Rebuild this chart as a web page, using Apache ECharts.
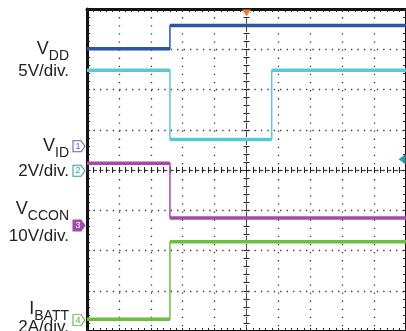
<!DOCTYPE html>
<html>
<head>
<meta charset="utf-8">
<script src="https://cdn.jsdelivr.net/npm/echarts@6/dist/echarts.min.js"></script>
<style>
  html, body { margin: 0; padding: 0; background: #fff; }
  #main { width: 406px; height: 331px; }
</style>
</head>
<body>
<div id="main"></div>
<script>
// time in divisions (10 div across), values in channel units
var vddTime = [-5, -2.4, -2.4, 5];
var vddVolts = [12.1, 12.1, 15.0, 15.0];
var vidTime = [-5, -2.4, -2.4, 0.79, 0.79, 5];
var vidVolts = [5.0, 5.0, 1.55, 1.55, 5.0, 5.0];
var vcconTime = [-5, -2.4, -2.4, 5];
var vcconVolts = [15.5, 15.5, 1.9, 1.9];
var ibattTime = [-5, -2.4, -2.4, 5];
var ibattAmps = [0.05, 0.05, 3.9, 3.9];

// per-channel scale (units/div) and ground offset (div)
var chScale = [5, 2, 10, 2];
var chOffset = [0.59, -0.02, -1.38, -3.73];
var chColor = ["#2b56a6", "#5cc7d4", "#a34ba9", "#6abf3f"];
var markColor = ["#5a5fb0", "#2a9f9c", "#a34ba9", "#5bb03a"];
var chName = ["1", "2", "3", "4"];

var labelMain = ["V", "V", "V", "I"];
var labelSub = ["DD", "ID", "CCON", "BATT"];
var labelDiv = ["5V/div.", "2V/div.", "10V/div.", "2A/div."];

function toDiv(ch, t, v) {
  return t.map(function(x, i) {
    return [x, chOffset[ch] + v[i] / chScale[ch]];
  });
}
// same points, but broken at the vertical edges (those stay thin)
function flatParts(ch, t, v) {
  var out = [];
  t.forEach(function(x, i) {
    out.push([x, chOffset[ch] + v[i] / chScale[ch]]);
    if (i < t.length - 1 && t[i + 1] === x) out.push([x, "-"]);
  });
  return out;
}

var markerPath = "path://M0,0 L8,0 L12,5.5 L8,11 L0,11 Z";

function chMarker(ch, filled, extra) {
  return {
    silent: true,
    animation: false,
    data: [
      {
        coord: [-5, chOffset[ch]],
        symbol: markerPath,
        symbolSize: [12, 11],
        symbolOffset: [-8, 0],
        itemStyle: {
          color: filled ? markColor[ch] : "#fff",
          borderColor: markColor[ch],
          borderWidth: 1
        },
        label: {
          show: true,
          position: "inside",
          formatter: chName[ch],
          color: filled ? "#fff" : markColor[ch],
          fontSize: 9,
          fontFamily: "Liberation Sans",
          offset: [-1, 0]
        }
      }
    ].concat(extra || [])
  };
}

var baseX = {
  type: "value",
  min: -5,
  max: 5,
  interval: 1,
  axisLabel: { show: false },
  splitLine: { show: false },
  axisTick: { show: true, inside: true, length: 3, lineStyle: { color: "#222" } },
  minorTick: { show: true, splitNumber: 5, length: 3, lineStyle: { color: "#222" } }
};
var baseY = {
  type: "value",
  min: -4,
  max: 4,
  interval: 1,
  axisLabel: { show: false },
  splitLine: { show: false },
  axisTick: { show: true, inside: true, length: 3, lineStyle: { color: "#222" } },
  minorTick: { show: true, splitNumber: 5, length: 3, lineStyle: { color: "#222" } }
};
function ax(base, extra) {
  return Object.assign({}, base, extra);
}

var chart = echarts.init(document.getElementById("main"));

var graphics = [];
var labelY = [52, 149, 212, 312];
var divY = [71, 171, 236, 327];
for (var i = 0; i < 4; i++) {
  graphics.push({
    type: "text",
    x: 69,
    y: labelY[i],
    style: {
      text: "{v|" + labelMain[i] + "}{s|" + labelSub[i] + "}",
      align: "right",
      verticalAlign: "middle",
      rich: {
        v: { fontSize: 18, fontFamily: "Liberation Sans", fill: "#222", padding: [0, 0, 5, 0], verticalAlign: "bottom" },
        s: { fontSize: 14, fontFamily: "Liberation Sans", fill: "#222", verticalAlign: "bottom" }
      }
    }
  });
  graphics.push({
    type: "text",
    x: 69,
    y: divY[i],
    style: {
      text: labelDiv[i],
      align: "right",
      verticalAlign: "middle",
      fontSize: 17,
      fontFamily: "Liberation Sans",
      fill: "#222"
    }
  });
}

function traceSeries(ch, t, v, markPoint) {
  return [
    {
      type: "line",
      showSymbol: false,
      data: toDiv(ch, t, v),
      lineStyle: { color: chColor[ch], width: 1.5 },
      markPoint: markPoint
    },
    {
      type: "line",
      showSymbol: false,
      connectNulls: false,
      data: flatParts(ch, t, v),
      lineStyle: { color: chColor[ch], width: 3.5 }
    }
  ];
}

chart.setOption({
  animation: false,
  grid: { left: 87, top: 9, width: 322, height: 324, containLabel: false },
  graphic: graphics,
  xAxis: [
    ax(baseX, {
      position: "bottom",
      axisLine: { onZero: false, lineStyle: { color: "#111", width: 2 } },
      splitLine: { show: true, lineStyle: { color: "#333", width: 1.3, type: [1.3, 6.8] } }
    }),
    ax(baseX, {
      position: "top",
      axisLine: { onZero: false, lineStyle: { color: "#111", width: 3 } }
    }),
    ax(baseX, {
      position: "bottom",
      axisLine: { onZero: true, onZeroAxisIndex: 0, lineStyle: { color: "#444", width: 1, type: [3, 3.4] } }
    }),
    ax(baseX, {
      position: "top",
      axisLine: { onZero: true, onZeroAxisIndex: 0, lineStyle: { color: "#444", width: 1, type: [3, 3.4] } }
    })
  ],
  yAxis: [
    ax(baseY, {
      position: "left",
      axisLine: { onZero: false, lineStyle: { color: "#111", width: 3 } },
      splitLine: { show: true, lineStyle: { color: "#333", width: 1.3, type: [1.3, 5.14] } }
    }),
    ax(baseY, {
      position: "right",
      axisLine: { onZero: false, lineStyle: { color: "#111", width: 2 } }
    }),
    ax(baseY, {
      position: "left",
      axisLine: { onZero: true, onZeroAxisIndex: 0, lineStyle: { color: "#444", width: 1, type: [4, 4.1] } }
    }),
    ax(baseY, {
      position: "right",
      axisLine: { onZero: true, onZeroAxisIndex: 0, lineStyle: { color: "#444", width: 1, type: [4, 4.1] } }
    })
  ],
  series: [].concat(
    traceSeries(1, vidTime, vidVolts, chMarker(1, false, [
      {
        coord: [5, 0.27],
        symbol: "path://M10,0 L0,5 L10,10 Z",
        symbolSize: [7, 10],
        symbolOffset: [-4, 0],
        itemStyle: { color: "#2aa0a6" },
        label: { show: false }
      }
    ])),
    traceSeries(0, vddTime, vddVolts, chMarker(0, false, [
      {
        coord: [0, 4],
        symbol: "path://M0,0 L10,0 L5,8 Z",
        symbolSize: [9, 7],
        symbolOffset: [0, 4],
        itemStyle: { color: "#f07d2c" },
        label: { show: false }
      }
    ])),
    traceSeries(2, vcconTime, vcconVolts, chMarker(2, true)),
    traceSeries(3, ibattTime, ibattAmps, chMarker(3, false))
  )
});
</script>
</body>
</html>
